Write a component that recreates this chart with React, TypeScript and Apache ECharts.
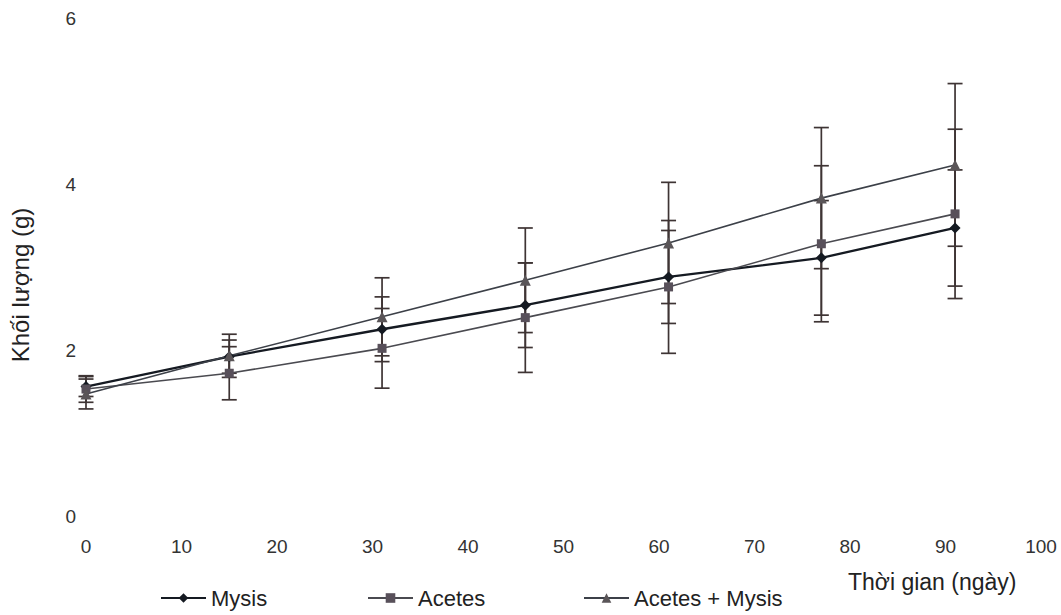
import React, { useEffect, useRef } from "react";
import * as echarts from "echarts";

const days = [0, 15, 31, 46, 61, 77, 91];
const mysis = [1.56, 1.92, 2.25, 2.54, 2.88, 3.11, 3.47];
const mysisErr = [0.12, 0.2, 0.39, 0.51, 0.56, 0.69, 0.7];
const acetes = [1.53, 1.72, 2.02, 2.39, 2.76, 3.28, 3.64];
const acetesErr = [0.16, 0.32, 0.48, 0.66, 0.8, 0.94, 1.02];
const mixed = [1.47, 1.93, 2.4, 2.84, 3.29, 3.83, 4.23];
const mixedErr = [0.18, 0.26, 0.47, 0.63, 0.73, 0.85, 0.98];

const seriesNames = ["Mysis", "Acetes", "Acetes + Mysis"];
const xTicks = { min: 0, max: 100, interval: 10 };
const yTicks = { min: 0, max: 6, interval: 2 };
const xTitle = "Thời gian (ngày)";
const yTitle = "Khối lượng (g)";

const FONT = "'Liberation Sans', Arial, sans-serif";

function pairs(vals: number[]) {
  return days.map((d, i) => [d, vals[i]]);
}
function errData(vals: number[], errs: number[]) {
  return days.map((d, i) => [d, vals[i] - errs[i], vals[i] + errs[i]]);
}

function errSeries(vals: number[], errs: number[]) {
  return {
    type: "custom",
    silent: true,
    z: 1,
    data: errData(vals, errs),
    renderItem: (params: any, api: any) => {
      const x = api.value(0);
      const lo = api.coord([x, api.value(1)]);
      const hi = api.coord([x, api.value(2)]);
      const w = 7.5;
      const st = { stroke: "#3e3434", lineWidth: 1.7 };
      return {
        type: "group",
        children: [
          { type: "line", shape: { x1: lo[0], y1: lo[1], x2: hi[0], y2: hi[1] }, style: st },
          { type: "line", shape: { x1: lo[0] - w, y1: lo[1], x2: lo[0] + w, y2: lo[1] }, style: st },
          { type: "line", shape: { x1: hi[0] - w, y1: hi[1], x2: hi[0] + w, y2: hi[1] }, style: st },
        ],
      };
    },
  };
}

export default function App() {
  const ref = useRef<HTMLDivElement>(null);
  useEffect(() => {
    document.body.style.margin = "0";
    const chart = echarts.init(ref.current!, null, { renderer: "svg" });
    const legendText = { fontFamily: FONT, fontSize: 22, color: "#222" };
    const legendBase = {
      top: 587,
      padding: 0,
      itemWidth: 45,
      itemHeight: 12,
      itemGap: 5,
      textStyle: legendText,
    };
    chart.setOption({
      animation: false,
      backgroundColor: "#ffffff",
      grid: { left: 86, right: 20, top: 18, bottom: 99 },
      xAxis: {
        type: "value",
        min: xTicks.min,
        max: xTicks.max,
        interval: xTicks.interval,
        axisLine: { show: false },
        axisTick: { show: false },
        splitLine: { show: false },
        axisLabel: { fontFamily: FONT, fontSize: 19, color: "#333", margin: 21 },
      },
      yAxis: {
        type: "value",
        min: yTicks.min,
        max: yTicks.max,
        interval: yTicks.interval,
        axisLine: { show: false },
        axisTick: { show: false },
        splitLine: { show: false },
        axisLabel: { fontFamily: FONT, fontSize: 19, color: "#333", margin: 10 },
      },
      legend: [
        { ...legendBase, data: [seriesNames[0]], left: 160 },
        { ...legendBase, data: [seriesNames[1]], left: 367 },
        { ...legendBase, data: [seriesNames[2]], left: 583 },
      ],
      graphic: [
        {
          type: "text",
          left: 848,
          top: 570,
          style: { text: xTitle, font: `23px ${FONT}`, fill: "#222" },
        },
        {
          type: "text",
          x: 20,
          y: 285,
          rotation: Math.PI / 2,
          style: {
            text: yTitle,
            font: `24px ${FONT}`,
            fill: "#222",
            align: "center",
            verticalAlign: "middle",
          },
        },
      ],
      series: [
        errSeries(mysis, mysisErr),
        errSeries(acetes, acetesErr),
        errSeries(mixed, mixedErr),
        {
          name: seriesNames[0],
          type: "line",
          z: 3,
          data: pairs(mysis),
          symbol: "diamond",
          symbolSize: 11,
          lineStyle: { color: "#151a22", width: 2.3 },
          itemStyle: { color: "#151a22" },
        },
        {
          name: seriesNames[1],
          type: "line",
          z: 3,
          data: pairs(acetes),
          symbol: "rect",
          symbolSize: 9,
          lineStyle: { color: "#4a4a50", width: 1.6 },
          itemStyle: { color: "#58505a" },
        },
        {
          name: seriesNames[2],
          type: "line",
          z: 3,
          data: pairs(mixed),
          symbol: "triangle",
          symbolSize: 11,
          lineStyle: { color: "#3c4048", width: 1.6 },
          itemStyle: { color: "#5a5558" },
        },
      ],
    });
    return () => chart.dispose();
  }, []);
  return <div ref={ref} style={{ width: 1061, height: 615 }} />;
}
